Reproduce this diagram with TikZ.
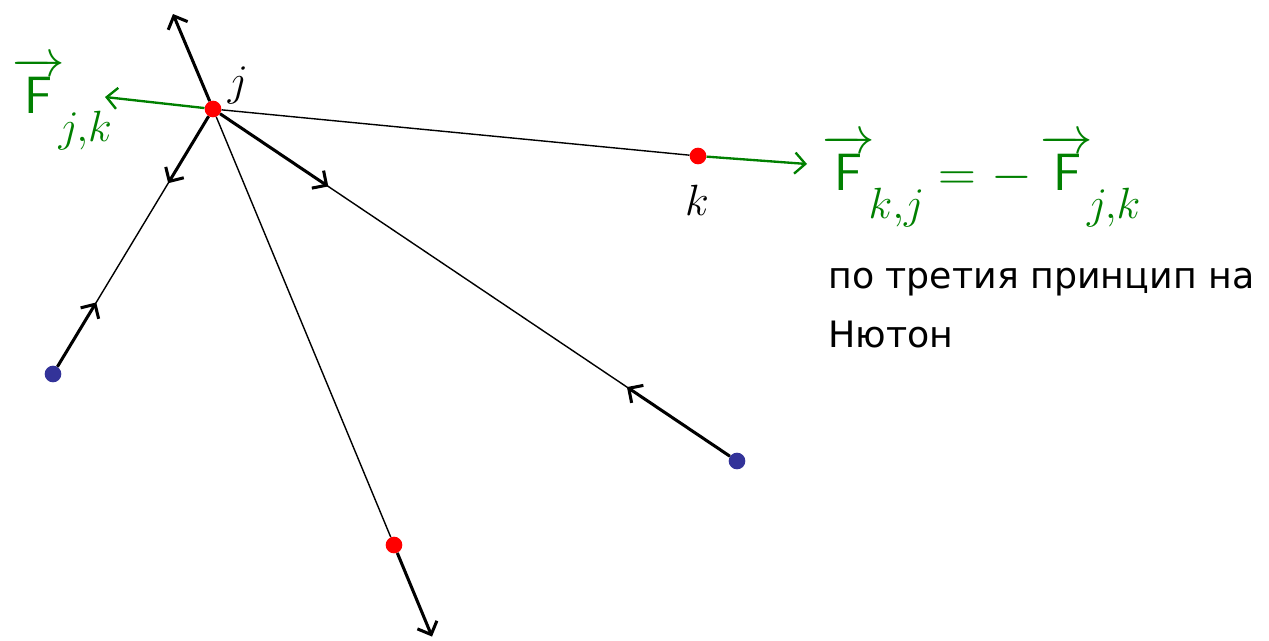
\documentclass[tikz,border=0pt]{standalone}
\usepackage{fontspec}
\setmainfont{DejaVu Sans}
\usepackage{amsmath}
\usetikzlibrary{arrows.meta,calc}
\definecolor{ForceGreen}{RGB}{0,128,0}
\definecolor{DotRed}{RGB}{255,0,0}
\definecolor{DotBlue}{RGB}{51,51,153}
\newcommand\lowidx[1]{\kern-0.12em\raisebox{-0.55em}{$\scriptstyle #1$}}

\begin{document}
\begin{tikzpicture}[
  x=0.03cm, y=-0.03cm,
  dot/.style={circle, inner sep=0pt, minimum size=0.5cm},
  link/.style={line width=1.2pt, black},
  pull/.style={-{Straight Barb[length=9pt, width=18pt]}, line width=2.6pt, black},
  force/.style={-{Straight Barb[length=9pt, width=18pt]}, line width=2pt, ForceGreen},
  vec/.style={font=\Huge, scale=1.8, transform shape, inner sep=0pt, text=ForceGreen},
  idx/.style={font=\Huge, scale=1.5, transform shape, inner sep=0pt},
  note/.style={font=\fontsize{31}{50}\selectfont, inner sep=0pt}
]
\useasboundingbox (0,0) rectangle (1269,640);
% points
\node[dot, fill=DotRed] (j) at (213,109) {};
\node[dot, fill=DotRed] (k) at (698,156) {};
\node[dot, fill=DotRed] (r) at (394,545) {};
\node[dot, fill=DotBlue] (b1) at (53,374) {};
\node[dot, fill=DotBlue] (b2) at (737,461) {};
\coordinate (up) at (173,14);
\coordinate (fjk) at (105,97);
\coordinate (fkj) at (807,164);
% lines between the points
\draw[link] (j) -- (k);
\draw[link] (j) -- (b1);
\draw[link] (j) -- (r);
\draw[link] (j) -- (b2);
% forces
\draw[pull] (j) -- (up);
\draw[pull] (j) -- ($(j)!0.28!(b1)$);
\draw[pull] (b1) -- ($(b1)!0.27!(j)$);
\draw[pull] (j) -- ($(j)!0.22!(b2)$);
\draw[pull] (b2) -- ($(b2)!0.21!(j)$);
\draw[pull] (r) -- ($(j)!1.21!(r)$);
\draw[force] (j) -- (fjk);
\draw[force] (k) -- (fkj);
% labels
\node[idx, anchor=base] (lj) at (238,95) {$j$};
\node[idx, anchor=base] (lk) at (697,215) {$k$};
\node[vec, anchor=base west] (lfjk) at (12,113) {$\overrightarrow{\mathsf{F}}\lowidx{j,k}$};
\node[vec, anchor=base west] (lfkj) at (822,190)
  {$\overrightarrow{\mathsf{F}}\lowidx{k,j} = -\,\overrightarrow{\mathsf{F}}\lowidx{j,k}$};
\node[note, anchor=base west] (law1) at (828,288) {по третия принцип на};
\node[note, anchor=base west] (law2) at (828,347) {Нютон};
\end{tikzpicture}
\end{document}
